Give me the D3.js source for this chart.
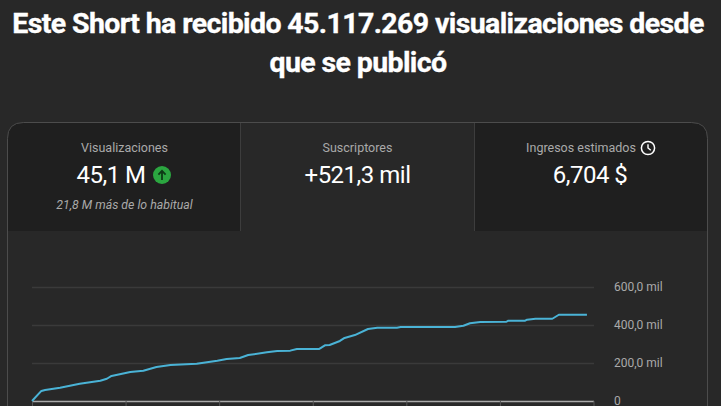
<!DOCTYPE html>
<html><head><meta charset="utf-8">
<script src="https://cdn.jsdelivr.net/npm/d3@7"></script>
<style>html,body{margin:0;padding:0;background:#282828;overflow:hidden}svg{display:block}text{font-family:Roboto,sans-serif}</style>
</head><body><svg id="c" width="721" height="406"></svg>
<script>
const titleLines=["Este Short ha recibido 45.117.269 visualizaciones desde","que se publicó"];
const metricLabels=["Visualizaciones","Suscriptores","Ingresos estimados"];
const metricValues=["45,1 M","+521,3 mil","6,704 $"];
const metricNote="21,8 M más de lo habitual";
const xPositions=[0,.10,.14,.30,.51,.73,.80,.85,1.05,1.19,1.33,1.48,1.76,1.98,2.08,2.22,2.31,2.51,2.62,2.76,2.83,3.07,3.13,3.18,3.29,3.34,3.45,3.59,3.69,3.90,3.94,4.52,4.61,4.68,4.79,5.07,5.09,5.27,5.29,5.38,5.56,5.63,5.93];
const viewsK=[0,53,58,70,91,107,117,132,153,159,179,189,196,212,221,226,242,256,263,265,274,274,293,295,316,332,347,379,386,386,389,389,396,409,416,417,423,423,428,433,433,454,454];
const yTicks=[0,200,400,600];
const yLabels=["0","200,0 mil","400,0 mil","600,0 mil"];
const xTicks=[0,1,2,3,4,5,6];

const svg=d3.select("#c");
const x=d3.scaleLinear().domain([0,6]).range([32,593.5]);
const y=d3.scaleLinear().domain([0,600]).range([401,287]);

const L=7.5,T=122.5,R=707.5,B=420,r=16;
const card=`M${L},${B}V${T+r}Q${L},${T} ${L+r},${T}H${R-r}Q${R},${T} ${R},${T+r}V${B}`;
svg.append("defs").append("clipPath").attr("id","cc").append("path").attr("d",card+"Z");
const panels=[[8,241,"#1f1f1f"],[474,707,"#1f1f1f"]];
svg.append("g").attr("clip-path","url(#cc)").selectAll("rect").data(panels).join("rect")
 .attr("x",d=>d[0]).attr("y",123).attr("width",d=>d[1]-d[0]).attr("height",108).attr("fill",d=>d[2]);
svg.append("path").attr("d",card).attr("fill","none").attr("stroke","#4c4c4c");
svg.selectAll("line.sep").data([240.5,474.5]).join("line").attr("class","sep")
 .attr("x1",d=>d).attr("x2",d=>d).attr("y1",123).attr("y2",231).attr("stroke","#3d3d3d");

svg.selectAll("text.title").data(titleLines).join("text").attr("class","title")
 .attr("x",358).attr("y",(d,i)=>33+i*39).attr("text-anchor","middle")
 .attr("fill","#fff").attr("stroke","#fff").attr("stroke-width",0.35)
 .attr("font-size",28.5).attr("font-weight",700).attr("letter-spacing",-0.62).text(d=>d);

const cx=[124.5,357.5,590];
svg.selectAll("text.ml").data(metricLabels).join("text").attr("class","ml")
 .attr("x",(d,i)=>i==2?cx[i]-9:cx[i]).attr("y",152).attr("text-anchor","middle")
 .attr("fill","#aaa").attr("font-size",12.5).text(d=>d);
svg.selectAll("text.mv").data(metricValues).join("text").attr("class","mv")
 .attr("x",(d,i)=>i==0?cx[i]-13.5:cx[i]).attr("y",183).attr("text-anchor","middle")
 .attr("fill","#fff").attr("font-size",24).attr("letter-spacing",-0.5).text(d=>d);
svg.append("text").attr("x",124.5).attr("y",209).attr("text-anchor","middle")
 .attr("fill","#aaa").attr("font-size",12.3).attr("font-style","italic").text(metricNote);

const up=svg.append("g").attr("transform","translate(162,175)");
up.append("circle").attr("r",9).attr("fill","#2ba640");
up.append("path").attr("d","M0,5V-4M-3.6,-0.4L0,-4.2L3.6,-0.4").attr("fill","none").attr("stroke","#0d3b16").attr("stroke-width",1.8);
const cl=svg.append("g").attr("transform","translate(648,148)");
cl.append("circle").attr("r",6.6).attr("fill","none").attr("stroke","#fff").attr("stroke-width",1.5);
cl.append("path").attr("d","M0,-3.8V0L2.8,2.2").attr("fill","none").attr("stroke","#fff").attr("stroke-width",1.4);

const yAxis=d3.axisRight(y).tickValues(yTicks).tickFormat((d,i)=>yLabels[i]).tickSize(562).tickPadding(20);
const gy=svg.append("g").attr("transform","translate(32,0)").call(yAxis);
gy.select(".domain").remove();
gy.selectAll("line").attr("stroke",d=>d===0?"#aaa":"#3a3a3a").attr("stroke-width",1.3);
gy.selectAll("text").attr("fill","#aaa").attr("font-size",12).attr("font-family","Roboto,sans-serif");
const xAxis=d3.axisBottom(x).tickValues(xTicks).tickFormat("").tickSize(6);
const gx=svg.append("g").attr("transform","translate(0,401)").call(xAxis);
gx.select(".domain").remove();
gx.selectAll("line").attr("stroke","#555");

const line=d3.line().x(d=>x(d[0])).y(d=>y(d[1]));
svg.append("path").datum(d3.zip(xPositions,viewsK)).attr("d",line)
 .attr("fill","none").attr("stroke","#4ab3d6").attr("stroke-width",2).attr("stroke-linejoin","round");
</script></body></html>
